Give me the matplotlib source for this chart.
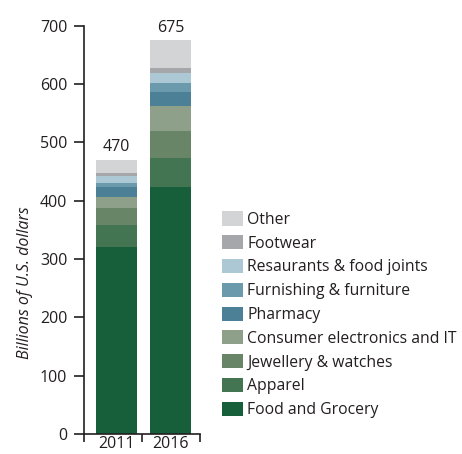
import matplotlib
matplotlib.use("Agg")
import matplotlib.pyplot as plt
import numpy as np

plt.rcParams['font.family'] = ['Open Sans', 'DejaVu Sans']

years = ['2011', '2016']
totals = [470, 675]

# segments, bottom to top
categories = ['Food and Grocery', 'Apparel', 'Jewellery & watches',
              'Consumer electronics and IT', 'Pharmacy', 'Furnishing & furniture',
              'Resaurants & food joints', 'Footwear', 'Other']
values_2011 = [320, 39, 29, 19, 16, 8, 11, 5, 23]
values_2016 = [424, 49, 46, 43, 24, 16, 17, 9, 47]
colors = ['#175e3a', '#447553', '#698567', '#8fa08a', '#4b8097',
          '#6a9aab', '#adc8d5', '#a6a7ab', '#d3d4d6']

txt = '#231f20'

fig = plt.figure(figsize=(4.62, 4.54), dpi=100)
ax = fig.add_axes([0.1818, 0.044, 0.251, 0.899])

x = np.arange(len(years))
data = np.array([values_2011, values_2016]).T
bottom = np.zeros(len(years))
handles = []
for cat, vals, col in zip(categories, data, colors):
    b = ax.bar(x, vals, width=0.76, bottom=bottom, color=col, label=cat)
    handles.append(b)
    bottom += vals

for xi, t in zip(x, totals):
    ax.text(xi, t + 8, str(t), ha='center', va='bottom', fontsize=11.5,
            color=txt, clip_on=False)

ax.set_xlim(-0.6, 1.545)
ax.set_ylim(0, 700)
ax.set_yticks(range(0, 701, 100))
ax.set_xticks(x)
ax.set_xticklabels(years)
ax.set_xticks([-0.6, 0.47, 1.545], minor=True)
ax.tick_params(axis='x', which='major', length=0, pad=1.5, labelsize=11.5, labelcolor=txt)
ax.tick_params(axis='x', which='minor', length=6, width=1.2, direction='out', color=txt)
ax.tick_params(axis='y', length=7, width=1.2, direction='out', labelsize=11.5,
               labelcolor=txt, color=txt, pad=5)

for s in ['top', 'right']:
    ax.spines[s].set_visible(False)
for s in ['left', 'bottom']:
    ax.spines[s].set_linewidth(1.2)
    ax.spines[s].set_color(txt)

ax.set_ylabel('Billions of U.S. dollars', fontsize=11.5, style='italic', color=txt)
ax.yaxis.set_label_coords(-0.44, 0.37)

fig.legend(handles[::-1], categories[::-1], loc='upper left',
           bbox_to_anchor=(0.466, 0.548), frameon=False, fontsize=11.3,
           handlelength=1.35, handleheight=1.0, handletextpad=0.3,
           labelspacing=0.47, borderaxespad=0, labelcolor=txt)

fig.savefig('out.png', dpi=100)
